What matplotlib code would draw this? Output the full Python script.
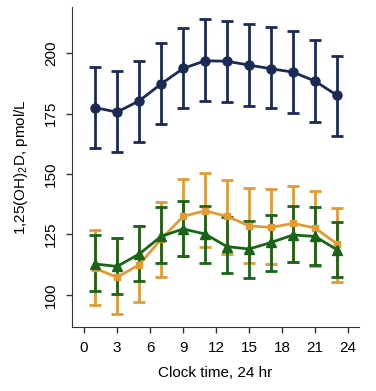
from matplotlib import pyplot as plt
import numpy as np

plt.rcParams['font.family'] = ['Liberation Sans', 'DejaVu Sans']
plt.rcParams['mathtext.fontset'] = 'custom'
plt.rcParams['mathtext.rm'] = 'Liberation Sans'
plt.rcParams['mathtext.default'] = 'regular'

hours = [1, 3, 5, 7, 9, 11, 13, 15, 17, 19, 21, 23]

navy_mean = [177.4, 175.6, 180.2, 187.2, 193.6, 196.8, 196.6, 195.0, 193.5, 192.1, 188.4, 182.5]
navy_upper = [194.1, 192.7, 196.8, 204.3, 210.5, 213.9, 213.4, 212.0, 210.6, 209.1, 205.4, 198.9]
navy_lower = [160.6, 159.0, 163.3, 170.7, 177.2, 180.3, 179.9, 178.1, 177.4, 175.3, 171.5, 165.7]

orange_mean = [111.0, 107.3, 112.5, 123.0, 132.5, 134.8, 132.5, 128.6, 127.9, 129.6, 127.7, 121.1]
orange_upper = [126.9, 123.4, 128.6, 138.6, 147.8, 150.4, 147.6, 144.3, 143.8, 144.9, 142.8, 136.1]
orange_lower = [96.0, 92.1, 97.1, 107.6, 116.3, 119.7, 116.9, 113.3, 112.8, 113.8, 112.1, 105.2]

green_mean = [112.8, 111.8, 116.9, 124.2, 127.3, 125.2, 120.0, 119.0, 121.7, 124.8, 124.2, 118.7]
green_upper = [124.6, 123.4, 128.6, 136.2, 139.0, 136.6, 132.1, 130.7, 133.2, 136.6, 136.2, 130.3]
green_lower = [101.5, 100.4, 105.6, 113.1, 116.2, 113.3, 109.1, 107.1, 110.0, 113.5, 112.5, 107.3]


def draw(ax, mean, lower, upper, color, marker, ms):
    mean = np.array(mean)
    yerr = [mean - np.array(lower), np.array(upper) - mean]
    ax.errorbar(hours, mean, yerr=yerr, color=color, ecolor=color, marker=marker,
                markersize=ms, linewidth=2, elinewidth=2, capsize=4, capthick=2)


fig = plt.figure(figsize=(3.76, 3.91), dpi=100)
ax = fig.add_axes([0.1915, 0.1645, 0.7633, 0.8175])

draw(ax, navy_mean, navy_lower, navy_upper, '#1b2a55', 'o', 6.5)
draw(ax, orange_mean, orange_lower, orange_upper, '#e39a33', 's', 5)
draw(ax, green_mean, green_lower, green_upper, '#1a6418', '^', 7)

ax.set_xlim(-1.1, 25.0)
ax.set_ylim(86.9, 219)
ax.set_xticks(range(0, 25, 3))
ax.set_yticks([100, 125, 150, 175, 200])
ax.tick_params(axis='both', labelsize=11, length=4, width=1, color='#333333', pad=6)
for lab in ax.get_yticklabels():
    lab.set_rotation(90)
    lab.set_va('center')
ax.set_xlabel('Clock time, 24 hr', fontsize=11, labelpad=8)
ax.set_ylabel('1,25(OH)$_2$D, pmol/L', fontsize=11, labelpad=10)

for side in ['left', 'bottom']:
    ax.spines[side].set_color('#333333')
ax.spines['top'].set_visible(False)
ax.spines['right'].set_visible(False)

fig.savefig('out.png', dpi=100)
